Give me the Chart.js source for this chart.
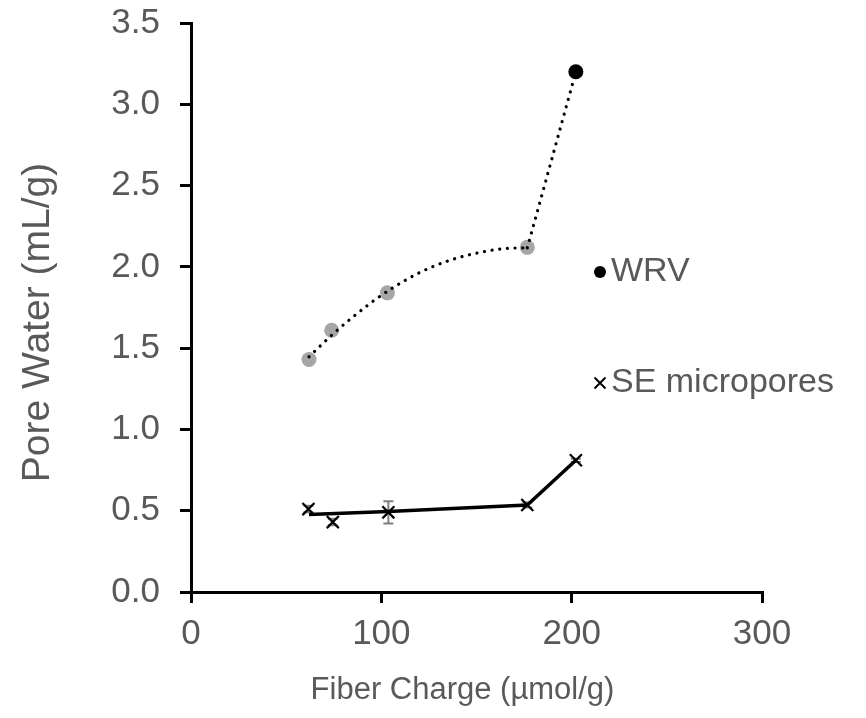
<!DOCTYPE html>
<html>
<head>
<meta charset="utf-8">
<script src="https://cdn.jsdelivr.net/npm/chart.js@4/dist/chart.umd.min.js"></script>
<style>
html,body{margin:0;padding:0;background:#fff;}
#wrap{width:866px;height:718px;position:relative;}
</style>
</head>
<body>
<div id="wrap"><canvas id="c" width="866" height="718"></canvas></div>
<script>
// ---- data ----
const xTickValues = [0, 100, 200, 300];
const yTickValues = [0, 0.5, 1.0, 1.5, 2.0, 2.5, 3.0, 3.5];

const wrvCharge = [62.0, 73.9, 103.2, 176.7, 202.2];
const wrvValues = [1.43, 1.61, 1.84, 2.12, 3.20];

// dotted trend curve
const trendCharge = [62.0, 74.8, 94.1, 105.5, 120.3, 136.4, 153.6, 166.8, 176.7];
const trendValues = [1.447, 1.589, 1.775, 1.867, 1.966, 2.042, 2.093, 2.114, 2.117];
const jumpCharge = [176.7, 202.2];
const jumpValues = [2.117, 3.20];

const seCharge = [61.7, 74.5, 103.7, 176.7, 202.2];
const seValues = [0.51, 0.43, 0.49, 0.535, 0.81];
const seError = [0.02, 0.02, 0.068, 0.015, 0.01];

const seLineCharge = [62.0, 103.7, 176.7, 202.2];
const seLineValues = [0.476, 0.495, 0.535, 0.81];

const legendLabels = ['WRV', 'SE micropores'];
const xTitle = 'Fiber Charge (µmol/g)';
const yTitle = 'Pore Water (mL/g)';

// ---- build ----
const pts = (xs, ys) => xs.map((x, i) => ({x: x, y: ys[i]}));
const FONT = "'Liberation Sans', Arial, sans-serif";
const TXT = '#595959';

const errorBars = {
  id: 'errorBars',
  beforeDatasetsDraw(chart) {
    const ctx = chart.ctx, xs = chart.scales.x, ys = chart.scales.y;
    ctx.save();
    ctx.strokeStyle = '#7f7f7f';
    ctx.lineWidth = 2;
    seCharge.forEach((c, i) => {
      const px = xs.getPixelForValue(c);
      const top = ys.getPixelForValue(seValues[i] + seError[i]);
      const bot = ys.getPixelForValue(seValues[i] - seError[i]);
      ctx.beginPath();
      ctx.moveTo(px, top); ctx.lineTo(px, bot);
      ctx.moveTo(px - 5, top); ctx.lineTo(px + 5, top);
      ctx.moveTo(px - 5, bot); ctx.lineTo(px + 5, bot);
      ctx.stroke();
    });
    ctx.restore();
  }
};

const customText = {
  id: 'customText',
  afterDraw(chart) {
    const ctx = chart.ctx, a = chart.chartArea;
    ctx.save();
    // axis titles
    ctx.fillStyle = TXT;
    ctx.textAlign = 'center';
    ctx.textBaseline = 'middle';
    ctx.font = "31px " + FONT;
    ctx.fillText(xTitle, (a.left + a.right) / 2 - 14, a.bottom + 98);
    ctx.save();
    ctx.translate(38, (a.top + a.bottom) / 2 + 15);
    ctx.rotate(-Math.PI / 2);
    ctx.font = "39px " + FONT;
    ctx.fillText(yTitle, 0, 0);
    ctx.restore();
    // legend
    const lx = a.right - 162, ty1 = a.top + 249, ty2 = a.top + 360;
    ctx.fillStyle = '#000';
    ctx.beginPath(); ctx.arc(lx, ty1, 6, 0, Math.PI * 2); ctx.fill();
    ctx.strokeStyle = '#000'; ctx.lineWidth = 2;
    ctx.beginPath();
    ctx.moveTo(lx - 5.5, ty2 - 5.5); ctx.lineTo(lx + 5.5, ty2 + 5.5);
    ctx.moveTo(lx - 5.5, ty2 + 5.5); ctx.lineTo(lx + 5.5, ty2 - 5.5);
    ctx.stroke();
    ctx.fillStyle = TXT;
    ctx.font = "34px " + FONT;
    ctx.textAlign = 'left';
    ctx.fillText(legendLabels[0], lx + 11, ty1);
    ctx.fillText(legendLabels[1], lx + 11, ty2);
    ctx.restore();
  }
};

new Chart(document.getElementById('c'), {
  type: 'scatter',
  data: {
    datasets: [
      {label: 'trend', data: pts(trendCharge, trendValues), showLine: true, cubicInterpolationMode: 'monotone',
       borderColor: '#000', borderWidth: 3.2, borderDash: [0.1, 7.6], borderCapStyle: 'round', pointRadius: 0, order: 1},
      {label: 'jump', data: pts(jumpCharge, jumpValues), showLine: true,
       borderColor: '#000', borderWidth: 3.2, borderDash: [0.1, 7.6], borderCapStyle: 'round', pointRadius: 0, order: 1},
      {label: legendLabels[0], data: pts(wrvCharge, wrvValues), showLine: false,
       pointRadius: 7.5, pointBorderWidth: 0,
       pointBackgroundColor: ['#a6a6a6', '#a6a6a6', '#a6a6a6', '#a6a6a6', '#000'],
       pointBorderColor: ['#a6a6a6', '#a6a6a6', '#a6a6a6', '#a6a6a6', '#000'], order: 2},
      {label: 'seLine', data: pts(seLineCharge, seLineValues), showLine: true, tension: 0,
       borderColor: '#000', borderWidth: 3.5, pointRadius: 0, order: 3},
      {label: legendLabels[1], data: pts(seCharge, seValues), showLine: false,
       pointStyle: 'crossRot', pointRadius: 8.5, pointBorderWidth: 2.2,
       pointBorderColor: '#000', pointBackgroundColor: '#000', order: 0}
    ]
  },
  options: {
    responsive: false,
    animation: false,
    layout: {padding: {left: 0, top: 23, right: 104, bottom: 0}},
    plugins: {legend: {display: false}, tooltip: {enabled: false}},
    scales: {
      x: {
        type: 'linear', min: 0, max: 300,
        afterBuildTicks: s => { s.ticks = xTickValues.map(v => ({value: v})); },
        afterFit: s => { s.height = 126; s.paddingLeft = 0; s.paddingRight = 0; },
        border: {color: '#000', width: 3},
        grid: {drawOnChartArea: false, drawTicks: true, tickLength: 11, color: '#000', lineWidth: 3},
        ticks: {color: TXT, font: {family: FONT, size: 35}, padding: 10},
        title: {display: false}
      },
      y: {
        type: 'linear', min: 0, max: 3.5,
        afterBuildTicks: s => { s.ticks = yTickValues.map(v => ({value: v})); },
        afterFit: s => { s.width = 191; s.paddingTop = 0; s.paddingBottom = 0; },
        border: {color: '#000', width: 3},
        grid: {drawOnChartArea: false, drawTicks: true, tickLength: 11, color: '#000', lineWidth: 3},
        ticks: {color: TXT, font: {family: FONT, size: 35}, padding: 20, callback: v => Number(v).toFixed(1)},
        title: {display: false}
      }
    }
  },
  plugins: [errorBars, customText]
});
</script>
</body>
</html>
